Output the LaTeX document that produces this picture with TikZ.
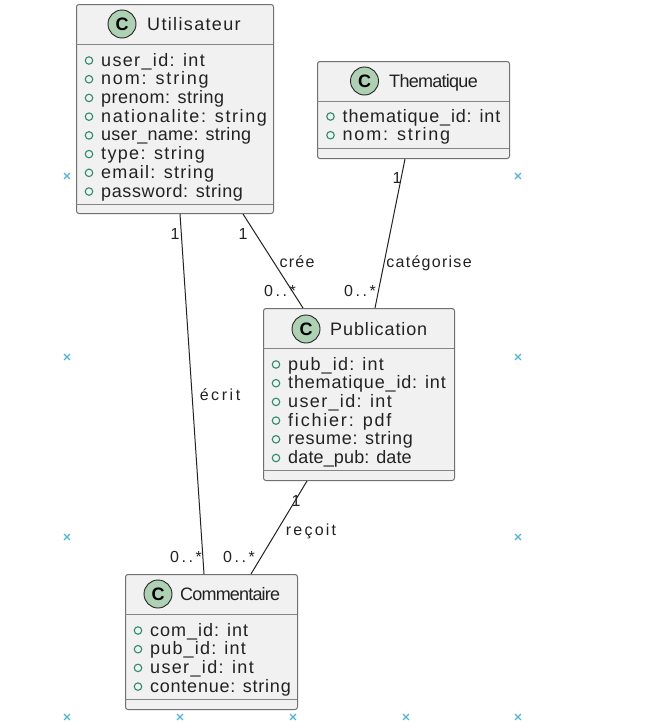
\documentclass[tikz,border=0pt]{standalone}
\usepackage{fontspec}
\setmainfont{Liberation Sans}
\newfontfamily\attrfont[LetterSpace=8]{Liberation Sans}
\newfontfamily\iconfont{Liberation Sans}
\usetikzlibrary{shapes.misc}
\definecolor{boxfill}{HTML}{F1F1F1}
\definecolor{boxline}{HTML}{707070}
\definecolor{sepline}{HTML}{858585}
\definecolor{iconfill}{HTML}{ADD1B2}
\definecolor{vis}{HTML}{2E8B6B}
\definecolor{crossc}{HTML}{4DB6DC}
\definecolor{ink}{HTML}{222222}
\newcommand{\spaced}[2]{\edef\spacedtmp{\noexpand\addfontfeature{LetterSpace=#1}}\spacedtmp #2}
\tikzset{
  x=1pt,y=-1pt,
  classbox/.style={draw=boxline,line width=1pt,fill=boxfill,rounded corners=2.5pt,inner sep=0,anchor=north west},
  sep/.style={draw=sepline,line width=1pt},
  icon/.style={circle,draw=ink,line width=0.9pt,fill=iconfill,minimum size=28pt,inner sep=0,font=\iconfont\bfseries\fontsize{18}{18}\selectfont,text=black},
  title/.style={anchor=base west,inner sep=0,text=ink,font=\attrfont\fontsize{18}{20}\selectfont},
  attr/.style={anchor=base west,inner sep=0,text=ink,font=\attrfont\fontsize{18}{20}\selectfont},
  bullet/.style={circle,draw=vis,line width=1.1pt,minimum size=7.5pt,inner sep=0},
  lab/.style={anchor=base,inner sep=0,text=ink,font=\attrfont\fontsize{16}{18}\selectfont},
  conn/.style={draw=ink,line width=1pt},
  crossmark/.style={cross out,draw=crossc,line width=1.3pt,minimum size=4.5pt,inner sep=0},
}
\newcommand{\classrows}[5]{% prefix, x, first baseline y, step, list of text/spacing
  \foreach \t/\ls [count=\i] in {#5} {
    \pgfmathsetmacro{\yy}{#3+(\i-1)*#4}
    \node[bullet] (#1b\i) at (#2-12,\yy-5.5) {};
    \node[attr] (#1t\i) at (#2,\yy) {\spaced{\ls}{\t}};
  }
}
\begin{document}
\begin{tikzpicture}
\useasboundingbox (0,0) rectangle (661,723);
\fill[white] (0,0) rectangle (661,723);

% registration marks
\foreach \cx/\cy [count=\k] in {67/176,518/176,67/357,518/357,67/537,518/537,67/717,180/717,293/717,406/717,518/717}
  \node[crossmark] (m\k) at (\cx,\cy) {};

% classes
\node[classbox,minimum width=197pt,minimum height=209pt] (u) at (76,4) {};
\node[classbox,minimum width=192pt,minimum height=97pt] (th) at (317,61) {};
\node[classbox,minimum width=191pt,minimum height=172pt] (p) at (263,308) {};
\node[classbox,minimum width=172pt,minimum height=135pt] (c) at (125,574) {};

\draw[sep] (76,44) -- (273,44) (76,204) -- (273,204);
\draw[sep] (317,101) -- (509,101) (317,148) -- (509,148);
\draw[sep] (263,348) -- (454,348) (263,470) -- (454,470);
\draw[sep] (125,614) -- (297,614) (125,699) -- (297,699);

% headers
\node[icon] (ui) at (122,24) {C};
\node[title] (ut) at (147,30) {\spaced{7.5}{Utilisateur}};
\node[icon] (ti) at (364.5,81) {C};
\node[title] (tt) at (389,87) {\spaced{-4}{Thematique}};
\node[icon] (pi) at (306,329) {C};
\node[title] (pt) at (330,335) {\spaced{5}{Publication}};
\node[icon] (ci) at (158,594) {C};
\node[title] (ct) at (180,600) {\spaced{-4.5}{Commentaire}};

% attributes
\classrows{u}{101}{66}{18.72}{user\_id: int/7.5,nom: string/10,prenom: string/2.8,nationalite: string/9,user\_name: string/1.5,type: string/7.5,email: string/7,password: string/3.5}
\classrows{th}{342.5}{122}{18.7}{thematique\_id: int/4.7,nom: string/10}
\classrows{p}{288}{370}{18.7}{pub\_id: int/6.5,thematique\_id: int/4.7,user\_id: int/7.5,fichier: pdf/10,resume: string/4,date\_pub: date/0.8}
\classrows{c}{150}{636}{18.7}{com\_id: int/5.5,pub\_id: int/6.5,user\_id: int/7.5,contenue: string/4.2}

% connectors
\draw[conn] ([xshift=104pt]u.south west) -- ([xshift=79pt]c.north west);
\draw[conn] ([xshift=167pt]u.south west) -- ([xshift=40pt]p.north west);
\draw[conn] ([xshift=88pt]th.south west) -- ([xshift=112pt]p.north west);
\draw[conn] ([xshift=44pt]p.south west) -- ([xshift=126pt]c.north west);

% labels
\node[lab] (l1) at (220,400) {\spaced{16}{écrit}};
\node[lab] (l2) at (297,267) {\spaced{8}{crée}};
\node[lab] (l3) at (429,267) {\spaced{8}{catégorise}};
\node[lab] (l4) at (311,535) {\spaced{14}{reçoit}};
\node[lab] (e1) at (175,239) {1};
\node[lab] (e2) at (243,239) {1};
\node[lab] (e3) at (280,296) {\spaced{16}{0..*}};
\node[lab] (e4) at (397,183) {1};
\node[lab] (e5) at (360,296) {\spaced{16}{0..*}};
\node[lab] (e6) at (296,506) {1};
\node[lab] (e7) at (186,562) {\spaced{16}{0..*}};
\node[lab] (e8) at (239,562) {\spaced{16}{0..*}};
\end{tikzpicture}
\end{document}
